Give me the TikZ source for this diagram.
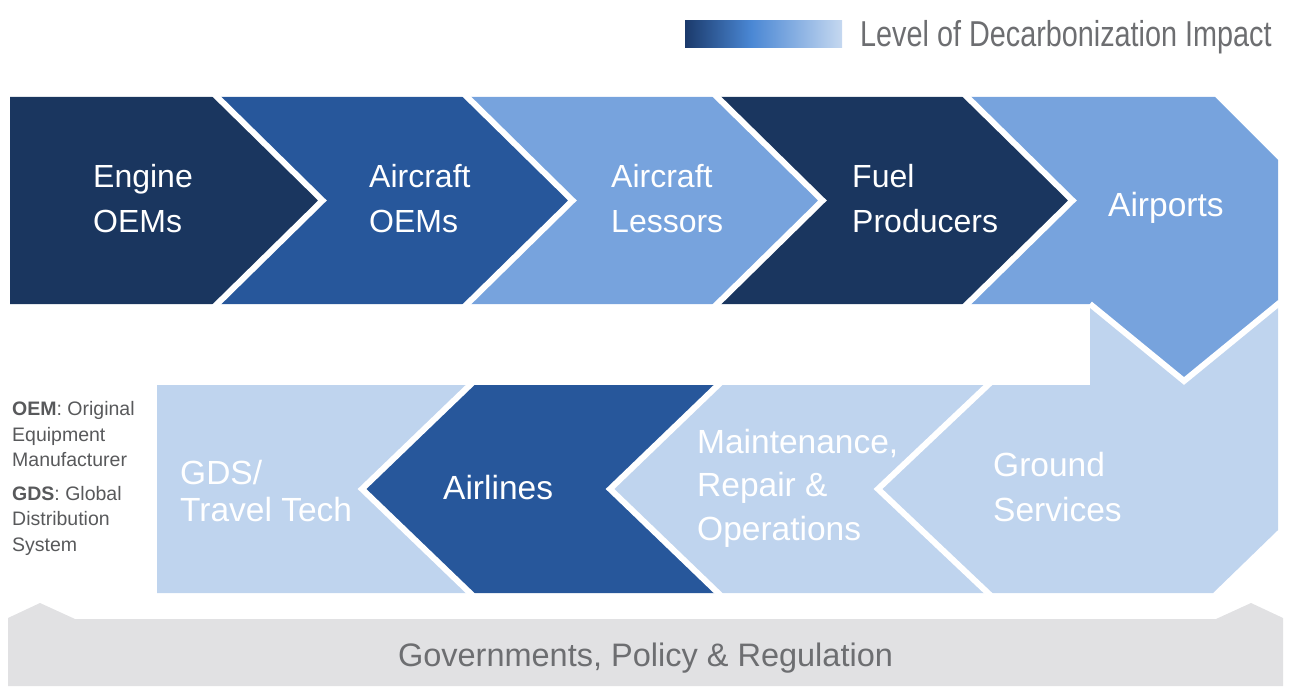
\documentclass[tikz,border=0pt]{standalone}
\usepackage{fontspec}
\setmainfont{Liberation Sans}
\newfontfamily\legendfont[FakeStretch=0.8]{Liberation Sans}
\definecolor{navy}{HTML}{1A365F}
\definecolor{midblue}{HTML}{27579B}
\definecolor{liteblue}{HTML}{77A3DD}
\definecolor{paleblue}{HTML}{BFD4EE}
\definecolor{bannergray}{HTML}{E1E1E3}
\definecolor{txtgray}{HTML}{6D6E71}
\definecolor{notegray}{HTML}{58595B}
\definecolor{gradnavy}{HTML}{1B3A6B}
\definecolor{gradmid}{HTML}{4A87D4}
\definecolor{gradlight}{HTML}{C5D8F0}
\pgfdeclarehorizontalshading{legendshade}{100bp}{color(0bp)=(gradnavy); color(25bp)=(gradnavy); color(46bp)=(gradmid); color(75bp)=(gradlight); color(100bp)=(gradlight)}
\begin{document}
\begin{tikzpicture}[x=1pt,y=-1pt,
  sepline/.style={draw=white, line width=6pt},
  toplabel/.style={text=white, font=\fontsize{32}{45}\selectfont, align=left, anchor=west, inner sep=0pt},
  botlabel/.style={text=white, font=\fontsize{33.5}{44}\selectfont, align=left, anchor=west, inner sep=0pt},
  notelabel/.style={text=notegray, font=\fontsize{19.5}{25.3}\selectfont, align=left, anchor=west, inner sep=0pt}]
\useasboundingbox (0,0) rectangle (1300,698);

% ---------- legend ----------
\shade[shading=legendshade] (685,21) rectangle (842,48);
\node[anchor=base west, inner sep=0pt, text=txtgray, font=\legendfont\fontsize{36}{36}\selectfont] (legend) at (860,47) {Level of Decarbonization Impact};

% ---------- bottom banner ----------
\fill[bannergray] (8,686) -- (8,618) -- (40,603) -- (75,619) -- (1216,619) -- (1251,603) -- (1283,618) -- (1283,686) -- cycle;
\node[anchor=base, inner sep=0pt, text=txtgray, font=\fontsize{32.5}{36}\selectfont] (gov) at (645.5,666) {Governments, Policy \& Regulation};

% ---------- top row ----------
\fill[navy] (10,97) -- (217,97) -- (322.5,200.5) -- (217,304) -- (10,304) -- cycle;
\fill[midblue] (217,97) -- (467,97) -- (572.5,200.5) -- (467,304) -- (217,304) -- (322.5,200.5) -- cycle;
\fill[liteblue] (467,97) -- (717,97) -- (822.5,200.5) -- (717,304) -- (467,304) -- (572.5,200.5) -- cycle;
\fill[navy] (717,97) -- (967,97) -- (1072.5,200.5) -- (967,304) -- (717,304) -- (822.5,200.5) -- cycle;

% ---------- bottom row ----------
\fill[paleblue] (157,385) -- (470,385) -- (362,489) -- (470,593) -- (157,593) -- cycle;
\fill[midblue] (470,385) -- (718,385) -- (610,489) -- (718,593) -- (470,593) -- (362,489) -- cycle;
\fill[paleblue] (718,385) -- (988,385) -- (878,489) -- (988,593) -- (718,593) -- (610,489) -- cycle;
\fill[paleblue] (988,385) -- (1090,385) -- (1090,304) -- (1278,304) -- (1278,530) -- (1213,593) -- (988,593) -- (878,489) -- cycle;

% airports (drawn over ground services)
\fill[liteblue] (967,97) -- (1215,97) -- (1278,160) -- (1278,304) -- (1184,381) -- (1090,304) -- (967,304) -- (1072.5,200.5) -- cycle;

% ---------- white separators ----------
\foreach \t in {217,467,717,967}{
  \draw[sepline] ({\t-8},89) -- ({\t+105.5},200.5) -- ({\t-8},312);
}
\draw[sepline] (478.4,377) -- (362,489) -- (478.4,601);
\draw[sepline] (726.4,377) -- (610,489) -- (726.4,601);
\draw[sepline] (996.4,377) -- (878,489) -- (996.4,601);
\draw[sepline] (1090,304) -- (1184,381) -- (1280,302.4);

% ---------- labels ----------
\node[toplabel] (engine) at (93,199) {Engine\\OEMs};
\node[toplabel] (acoem) at (369,199) {Aircraft\\OEMs};
\node[toplabel] (lessors) at (611,199) {Aircraft\\Lessors};
\node[toplabel] (fuel) at (852,199) {Fuel\\Producers};
\node[anchor=base west, inner sep=0pt, text=white, font=\fontsize{33.5}{44}\selectfont] (airports) at (1108,216) {Airports};

\node[botlabel, font=\fontsize{33.5}{37}\selectfont] (gds) at (180,491.5) {GDS/\\Travel Tech};
\node[anchor=base west, inner sep=0pt, text=white, font=\fontsize{33.5}{44}\selectfont] (airlines) at (443,499) {Airlines};
\node[botlabel, font=\fontsize{33.5}{43.5}\selectfont] (mro) at (697,488) {Maintenance,\\Repair \&\\Operations};
\node[botlabel, font=\fontsize{33.5}{45}\selectfont] (ground) at (993,487.5) {Ground\\Services};

% ---------- notes ----------
\node[notelabel] (noteoem) at (12,434.3) {\textbf{OEM}: Original\\Equipment\\Manufacturer};
\node[notelabel] (notegds) at (12,520.7) {\textbf{GDS}: Global\\Distribution\\System};
\end{tikzpicture}
\end{document}
